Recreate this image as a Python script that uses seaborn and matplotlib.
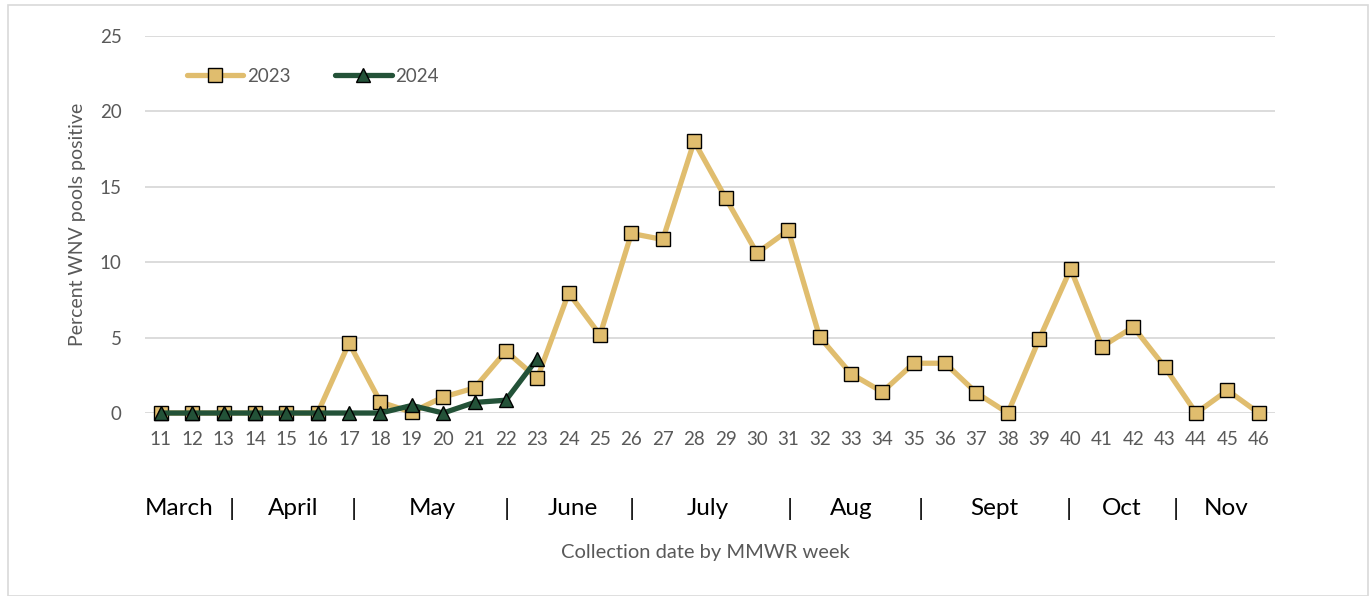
import matplotlib
matplotlib.use("Agg")
import matplotlib.pyplot as plt
import seaborn as sns
import pandas as pd
from matplotlib.patches import Rectangle

weeks = list(range(11, 47))
pct_2023 = [0, 0, 0, 0, 0, 0, 4.64, 0.73, 0.05, 1.06, 1.66, 4.1, 2.3, 7.96, 5.17,
            11.9, 11.5, 18.0, 14.26, 10.6, 12.1, 5.04, 2.6, 1.4, 3.3, 3.3, 1.33, 0,
            4.9, 9.55, 4.4, 5.7, 3.05, 0, 1.5, 0]
weeks_2024 = list(range(11, 24))
pct_2024 = [0, 0, 0, 0, 0, 0, 0, 0, 0.5, 0, 0.7, 0.85, 3.6]
months = ["March", "April", "May", "June", "July", "Aug", "Sept", "Oct", "Nov"]
month_pos = [11.57, 15.23, 19.65, 24.14, 28.44, 33.02, 37.57, 41.64, 44.95]
sep_pos = [13.26, 17.14, 22.04, 26.02, 31.04, 35.21, 39.95, 43.36]

sns.set_theme(style="white")
plt.rcParams['font.family'] = ['Lato', 'DejaVu Sans']

fig = plt.figure(figsize=(13.69, 5.96), dpi=100)
ax = fig.add_axes([0.106, 0.307, 0.825, 0.633])

c23 = "#E0BD6E"
c24 = "#235238"
df23 = pd.DataFrame({"week": weeks, "pct": pct_2023})
df24 = pd.DataFrame({"week": weeks_2024, "pct": pct_2024})
sns.lineplot(data=df23, x="week", y="pct", ax=ax, color=c23, lw=3.8, marker="s",
             markersize=10, markerfacecolor=c23, markeredgecolor="black",
             markeredgewidth=1.0, label="2023", clip_on=False, zorder=3)
sns.lineplot(data=df24, x="week", y="pct", ax=ax, color=c24, lw=3.8, marker="^",
             markersize=10, markerfacecolor=c24, markeredgecolor="black",
             markeredgewidth=1.0, label="2024", clip_on=False, zorder=4)

ax.set_xlim(10.5, 46.5)
ax.set_ylim(0, 25)
ax.set_yticks([0, 5, 10, 15, 20, 25])
ax.set_xticks(weeks)
ax.set_xticklabels([str(w) for w in weeks])
ax.yaxis.grid(True, color="#D9D9D9", lw=1.3)
ax.xaxis.grid(False)
for s in ax.spines.values():
    s.set_visible(False)
ax.tick_params(axis="both", colors="#595959", labelsize=13.5, length=0)
ax.tick_params(axis="x", pad=13)
ax.tick_params(axis="y", pad=17)
ax.set_xlabel("")
ax.set_ylabel("Percent WNV pools positive", color="#595959", fontsize=14, labelpad=10)

for m, p in zip(months, month_pos):
    ax.text(p, -6.35, m, ha="center", va="center", fontsize=17.5, color="black",
            transform=ax.transData, clip_on=False)
for p in sep_pos:
    ax.text(p, -6.35, "|", ha="center", va="center", fontsize=17.5, color="black",
            transform=ax.transData, clip_on=False)
fig.text(0.515, 0.073, "Collection date by MMWR week", ha="center", va="center",
         fontsize=14.5, color="#595959")

leg = ax.legend(loc="upper left", bbox_to_anchor=(0.022, 0.96), ncol=2, frameon=False,
                fontsize=13.5, handlelength=3.0, columnspacing=2.4, handletextpad=0.2)
for t in leg.get_texts():
    t.set_color("#595959")

fig.patches.append(Rectangle((0.006, 0.0), 0.993, 0.992, transform=fig.transFigure,
                             fill=False, edgecolor="#D9D9D9", lw=1.2))
fig.savefig("out.png", dpi=100, facecolor="white")
